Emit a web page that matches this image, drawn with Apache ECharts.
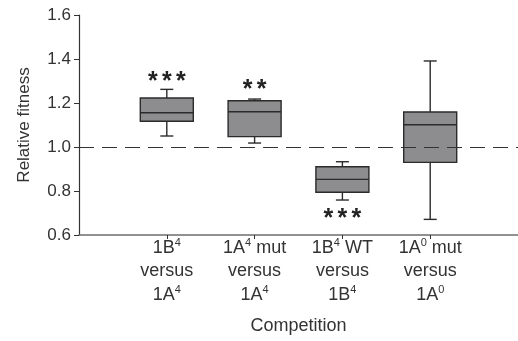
<!DOCTYPE html>
<html>
<head>
<meta charset="utf-8">
<script src="https://cdn.jsdelivr.net/npm/echarts@6/dist/echarts.min.js"></script>
<style>html,body{margin:0;padding:0;background:#fff}#c{width:518px;height:341px}</style>
</head>
<body>
<div id="c"></div>
<script>
// Data
var categories = [
  '1B{sup|4}\nversus\n1A{sup|4}',
  '1A{sup|4} mut\nversus\n1A{sup|4}',
  '1B{sup|4} WT\nversus\n1B{sup|4}',
  '1A{sup|0} mut\nversus\n1A{sup|0}'
];
var positions = [1, 2, 3, 4];
var whiskerLow = [1.05, 1.018, 0.759, 0.671];
var q1 = [1.117, 1.047, 0.794, 0.93];
var median = [1.156, 1.16, 0.853, 1.101];
var q3 = [1.223, 1.21, 0.91, 1.159];
var whiskerHigh = [1.262, 1.218, 0.933, 1.391];
var starY = [1.295, 1.26, 0.674, null];
var starCount = [3, 2, 3, 0];
var referenceY = 1.0;

var boxData = positions.map(function (p, i) {
  return [p, whiskerLow[i], q1[i], median[i], q3[i], whiskerHigh[i]];
});
var starData = positions.map(function (p, i) {
  return [p, starY[i] == null ? referenceY : starY[i], starCount[i]];
});

var STROKE = '#2b2b2b';
var FILL = '#8d8d8f';
var BOXW = 53;
var CAPW = 13;

var chart = echarts.init(document.getElementById('c'));
chart.setOption({
  animation: false,
  grid: { left: 79, right: 0, top: 15, bottom: 106 },
  xAxis: {
    type: 'value', min: 0, max: 5,
    name: 'Competition', nameLocation: 'middle', nameGap: 82,
    nameTextStyle: { fontFamily: 'Liberation Sans', fontSize: 18, color: '#333' },
    splitLine: { show: false },
    axisLine: { show: true, lineStyle: { color: '#6e6e6e', width: 1.6 } },
    axisTick: { show: true, customValues: positions, length: 4, lineStyle: { color: '#333' } },
    axisLabel: {
      customValues: positions, margin: 1,
      fontFamily: 'Liberation Sans', fontSize: 18, color: '#333', lineHeight: 23.5,
      formatter: function (v) { return categories[Math.round(v) - 1] || ''; },
      rich: { sup: { fontSize: 11, lineHeight: 23.5, padding: [0, 0, 9, 0], color: '#333', fontFamily: 'Liberation Sans' } }
    }
  },
  yAxis: {
    type: 'value', min: 0.6, max: 1.6, interval: 0.2,
    name: 'Relative fitness', nameLocation: 'middle', nameGap: 46, nameRotate: 90,
    nameTextStyle: { fontFamily: 'Liberation Sans', fontSize: 17, color: '#333' },
    splitLine: { show: false },
    axisLine: { show: true, lineStyle: { color: '#333', width: 1.2 } },
    axisTick: { show: true, length: 5, lineStyle: { color: '#333' } },
    axisLabel: {
      fontFamily: 'Liberation Sans', fontSize: 17, color: '#333', margin: 8,
      formatter: function (v) { return v.toFixed(1); }
    }
  },
  series: [
    {
      type: 'line', data: [], z: 1,
      markLine: {
        silent: true, symbol: 'none', label: { show: false },
        lineStyle: { type: [15, 8], color: '#333', width: 1.2 },
        data: [{ yAxis: referenceY }]
      }
    },
    {
      type: 'custom', z: 3, data: boxData,
      renderItem: function (params, api) {
        var x = api.coord([api.value(0), 0])[0];
        var yMin = api.coord([0, api.value(1)])[1];
        var yQ1 = api.coord([0, api.value(2)])[1];
        var yMed = api.coord([0, api.value(3)])[1];
        var yQ3 = api.coord([0, api.value(4)])[1];
        var yMax = api.coord([0, api.value(5)])[1];
        var ls = { stroke: STROKE, lineWidth: 1.4 };
        return {
          type: 'group', children: [
            { type: 'line', shape: { x1: x, y1: yMin, x2: x, y2: yQ1 }, style: ls },
            { type: 'line', shape: { x1: x, y1: yQ3, x2: x, y2: yMax }, style: ls },
            { type: 'line', shape: { x1: x - CAPW / 2, y1: yMin, x2: x + CAPW / 2, y2: yMin }, style: ls },
            { type: 'line', shape: { x1: x - CAPW / 2, y1: yMax, x2: x + CAPW / 2, y2: yMax }, style: ls },
            { type: 'rect', shape: { x: x - BOXW / 2, y: yQ3, width: BOXW, height: yQ1 - yQ3 }, style: { fill: FILL, stroke: STROKE, lineWidth: 1.4 } },
            { type: 'line', shape: { x1: x - BOXW / 2, y1: yMed, x2: x + BOXW / 2, y2: yMed }, style: ls }
          ]
        };
      }
    },
    {
      type: 'custom', z: 4, data: starData,
      renderItem: function (params, api) {
        var n = api.value(2);
        var p = api.coord([api.value(0), api.value(1)]);
        var children = [];
        for (var k = 0; k < n; k++) {
          var dx = (k - (n - 1) / 2) * 14;
          children.push({ type: 'text', x: p[0] + dx, y: p[1], style: {
            text: '*', fontFamily: 'Liberation Sans', fontWeight: 'bold', fontSize: 25,
            fill: '#222', align: 'center', verticalAlign: 'middle'
          } });
        }
        return { type: 'group', children: children };
      }
    }
  ]
});
</script>
</body>
</html>
